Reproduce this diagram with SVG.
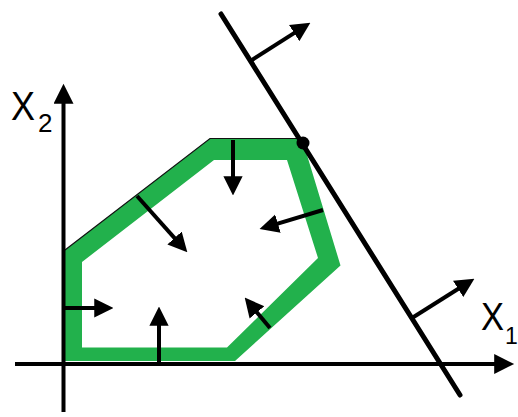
<svg xmlns="http://www.w3.org/2000/svg" width="518" height="417" viewBox="0 0 518 417">
<style>
.ln{stroke:#000;stroke-width:4;fill:none}
.arr{marker-end:url(#ah)}
.ax{marker-end:url(#axh)}
.lbl{font-family:"Liberation Sans",Arial,sans-serif;fill:#000}
</style>
<defs>
<marker id="ah" viewBox="0 0 10 10" refX="6" refY="5" markerWidth="4.8" markerHeight="5.2" orient="auto"><path d="M0,0 L10,5 L0,10 z" fill="#000"/></marker>
<marker id="axh" viewBox="0 0 10 10" refX="6" refY="5" markerWidth="5.5" markerHeight="5" orient="auto"><path d="M0,0 L10,5 L0,10 z" fill="#000"/></marker>
</defs>
<rect width="518" height="417" fill="#fff"/>
<g id="region">
<path d="M65,250 L210,138.5 L302,138.5 L340.5,265.5 L235,361 L65,361 Z M82,262 L214,160 L287,160 L318,258 L227,347.5 L82,347.5 Z" fill="#22b14c" fill-rule="evenodd"/>
<polyline points="65,250 210,138.5 302,138.5" fill="none" stroke="#111" stroke-width="1.2"/>
</g>
<g id="axes">
<line class="ln ax" x1="63.5" y1="412" x2="63.5" y2="91.8"/>
<line class="ln ax" x1="15" y1="364" x2="506.2" y2="364"/>
</g>
<g id="constraint">
<line x1="221" y1="14" x2="460" y2="395" stroke="#000" stroke-width="5" stroke-linecap="round"/>
<circle cx="303" cy="143" r="6.5" fill="#000"/>
</g>
<g id="connectors">
<line class="ln arr" x1="233" y1="140" x2="233" y2="187.8"/>
<line class="ln arr" x1="137" y1="196" x2="182.2" y2="246.6"/>
<line class="ln arr" x1="323" y1="210" x2="266.9" y2="226.9"/>
<line class="ln arr" x1="63.5" y1="308" x2="105.8" y2="308"/>
<line class="ln arr" x1="159" y1="362" x2="159" y2="314.2"/>
<line class="ln arr" x1="270" y1="328" x2="249.6" y2="303.5"/>
<line class="ln arr" x1="252" y1="60" x2="303.9" y2="26.9"/>
<line class="ln arr" x1="412" y1="318" x2="467.9" y2="282.8"/>
</g>
<g id="labels">
<text class="lbl" x="11" y="120" font-size="41" textLength="24" lengthAdjust="spacingAndGlyphs">X</text>
<text class="lbl" x="38" y="132" font-size="26">2</text>
<text class="lbl" x="481" y="330" font-size="38" textLength="23" lengthAdjust="spacingAndGlyphs">X</text>
<text class="lbl" x="505" y="344" font-size="23">1</text>
</g>
</svg>
